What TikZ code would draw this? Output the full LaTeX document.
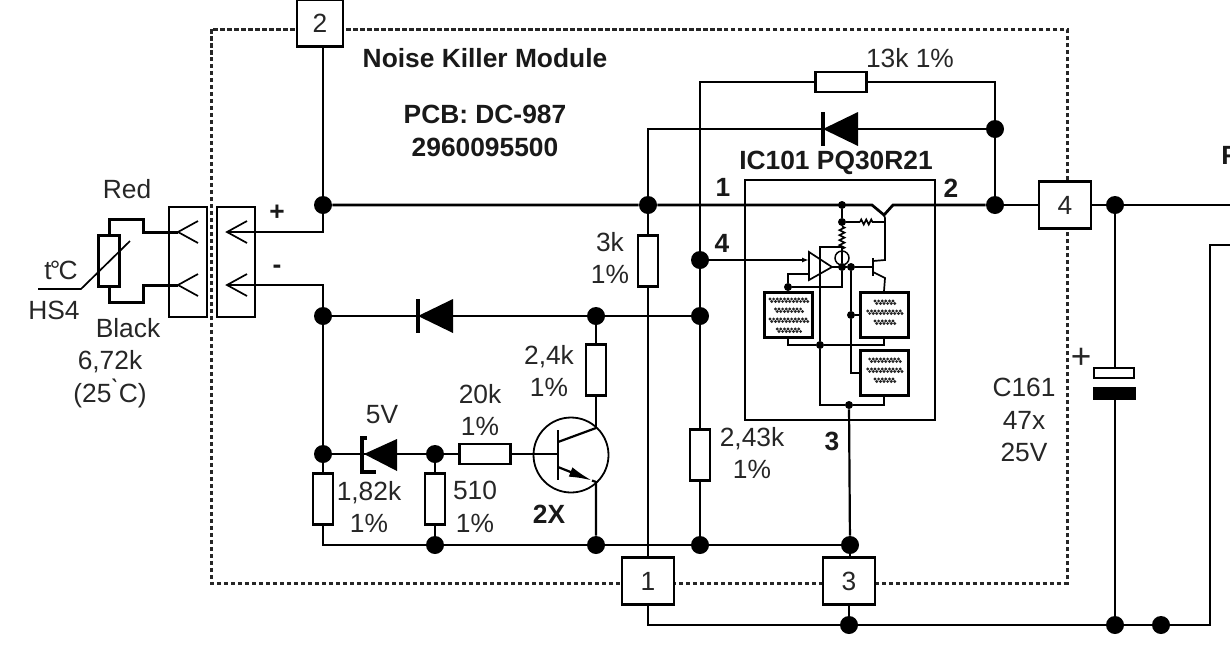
\documentclass[tikz,border=0pt]{standalone}
\usepackage{fontspec}
\setmainfont{Liberation Sans}
\usetikzlibrary{arrows.meta,calc,decorations.pathmorphing}
\tikzset{
  wire/.style={line width=0.044cm},
  thinwire/.style={line width=0.034cm},
  jdot/.style={circle,fill=black,inner sep=0pt,minimum size=0.36cm},
  sdot/.style={circle,fill=black,inner sep=0pt,minimum size=0.16cm},
  rvert/.style={draw,fill=white,line width=0.044cm,inner sep=0pt,minimum width=0.40cm,minimum height=1.02cm},
  rhoriz/.style={draw,fill=white,line width=0.044cm,inner sep=0pt,minimum width=1.02cm,minimum height=0.40cm},
  tlabel/.style={font=\fontsize{15}{18.7}\selectfont,text=black!85,inner sep=0pt,align=center},
  blabel/.style={font=\fontsize{15}{18.7}\selectfont\bfseries,text=black!90,inner sep=0pt,align=center},
  termbox/.style={draw,fill=white,line width=0.05cm,inner sep=0pt,minimum width=1.04cm,minimum height=0.94cm,tlabel},
  heatbox/.style={draw,line width=0.06cm,inner sep=0pt,minimum width=0.96cm,minimum height=0.90cm},
  conbox/.style={draw,line width=0.036cm,inner sep=0pt,minimum width=0.76cm,minimum height=2.20cm},
  diodeleft/.pic={
    \fill (0,0) -- (35,-17) -- (35,17) -- cycle;
    \draw [line width=0.07cm] (0,-17) -- (0,17);
  },
}
\newcommand{\heatdots}[2]{%
  \foreach \rowy/\rowcnt in {#2}{%
    \foreach \dotn in {1,...,\rowcnt}{%
      \fill [black!85] ($(#1)+({(\dotn-(\rowcnt+1)/2)*3.6},\rowy)$) circle (0.032cm);
      \fill [black!85] ($(#1)+({(\dotn-(\rowcnt+1)/2)*3.6+1.8},\rowy+2.5)$) circle (0.032cm);
    }%
  }%
}
\begin{document}
\begin{tikzpicture}[x=0.02cm,y=-0.02cm]
  \useasboundingbox (0,0) rectangle (1230,650);
  \clip (0,0) rectangle (1230,650);

  % Drawing module frame
  \draw [line width=0.06cm,dash pattern=on 0.09cm off 0.05cm,black!85] (211,29) rectangle (1067,583);

  % Marking terminals
  \node [termbox,minimum width=0.92cm] (boxTwo) at (320,23) {2};
  \node [termbox] (boxOne) at (648,581) {1};
  \node [termbox] (boxThree) at (849,581) {3};
  \node [termbox] (boxFour) at (1065,205) {4};

  % Marking junctions
  \node [jdot] (jPlus) at (323,205) {};
  \node [jdot] (jRail) at (648,205) {};
  \node [jdot] (jOut) at (995,205) {};
  \node [jdot] (jFb) at (995,129) {};
  \node [jdot] (jCap) at (1115,205) {};
  \node [jdot] (jMinus) at (323,316) {};
  \node [jdot] (jColl) at (596,316) {};
  \node [jdot] (jSense) at (700,316) {};
  \node [jdot] (jAdj) at (700,260) {};
  \node [jdot] (jZener) at (323,454) {};
  \node [jdot] (jBase) at (435,454) {};
  \node [jdot] (jLowA) at (435,545) {};
  \node [jdot] (jLowB) at (596,545) {};
  \node [jdot] (jLowC) at (700,545) {};
  \node [jdot] (jLowD) at (850,545) {};
  \node [jdot] (jGndA) at (849,625) {};
  \node [jdot] (jGndB) at (1115,625) {};
  \node [jdot] (jGndC) at (1161,625) {};

  % Marking resistors
  \node [rhoriz] (rFb) at (841,82) {};
  \node [rvert] (rThree) at (648,261) {};
  \node [rvert] (rTwoFour) at (596,370) {};
  \node [rvert] (rTwoFourThree) at (700,455) {};
  \node [rvert] (rOneEight) at (323,499) {};
  \node [rvert] (rFiveTen) at (435,499) {};
  \node [rhoriz] (rTwenty) at (485,454) {};

  % Drawing rail and feedback
  \coordinate (cPlus) at (227,232);
  \coordinate (cMinus) at (227,285);
  \coordinate (cCorner) at (700,82);
  \coordinate (cFbLeft) at (648,129);
  \coordinate (cIcRail) at (842,205);
  \coordinate (cRight) at (1230,205);
  \draw [wire] (cPlus) -| (jPlus);
  \draw [wire] (jPlus) -- (jPlus |- boxTwo.south);
  \draw [line width=0.055cm] (jPlus) -- (jRail) -- (cIcRail) -- (872,205) -- (884,215) -- (893,205) -- (jOut);
  \draw [wire] (jOut) -- (boxFour.west);
  \draw [wire] (boxFour.east) -- (jCap) -- (cRight);
  \draw [wire] (jOut) -- (jFb);
  \draw [wire] (jFb) -- (cFbLeft) -- (jRail);
  \draw [wire] (jFb) |- (rFb.east);
  \draw [wire] (rFb.west) -- (cCorner) -- (jAdj) -- (jSense);
  \draw [wire] (jRail) -- (rThree.north);
  \draw [wire] (rThree.south) -- (boxOne.north);

  % Drawing lower side
  \coordinate (cLowLeft) at (323,545);
  \draw [wire] (cMinus) -| (jMinus);
  \draw [wire] (jMinus) -- (jColl) -- (jSense);
  \draw [wire] (jMinus) -- (jZener) -- (rOneEight.north);
  \draw [wire] (rOneEight.south) -- (cLowLeft) -- (jLowA) -- (jLowB) -- (jLowC) -- (jLowD);
  \draw [wire] (jSense) -- (rTwoFourThree.north);
  \draw [wire] (rTwoFourThree.south) -- (jLowC);
  \draw [wire] (jLowD) -- (jLowD |- boxThree.north);
  \draw [wire] (jZener) -- (jBase) -- (rTwenty.west);
  \draw [wire] (jBase) -- (rFiveTen.north);
  \draw [wire] (rFiveTen.south) -- (jLowA);

  % Drawing return line
  \coordinate (cRetLeft) at (648,625);
  \coordinate (cRetRight) at (1210,625);
  \coordinate (cRetTop) at (1210,245);
  \coordinate (cRetEnd) at (1230,245);
  \draw [wire] (boxOne.south) -- (cRetLeft) -- (jGndA) -- (jGndB) -- (jGndC) -- (cRetRight) -- (cRetTop) -- (cRetEnd);
  \draw [wire] (boxThree.south -| jGndA) -- (jGndA);

  % Drawing capacitor
  \node [draw,fill=white,line width=0.05cm,inner sep=0pt,minimum width=0.80cm,minimum height=0.20cm] (capTop) at (1114,373) {};
  \node [fill=black,inner sep=0pt,minimum width=0.86cm,minimum height=0.26cm] (capBot) at (1114,393) {};
  \draw [wire] (jCap) -- (jCap |- capTop.north);
  \draw [wire] (capBot.south -| jGndB) -- (jGndB);

  % Drawing diodes
  \pic at (418,316) {diodeleft};
  \pic at (823,129) {diodeleft};
  \fill (364,454) -- (397,439) -- (397,471) -- cycle;
  \draw [line width=0.07cm] (367,438) -- (362,438) -- (362,472) -- (376,472);

  % Drawing transistor
  \node [draw,circle,line width=0.036cm,inner sep=0pt,minimum size=1.50cm] (qTwoX) at (571,455) {};
  \coordinate (qBar) at (558,454);
  \coordinate (qColl) at (596,428);
  \coordinate (qEmit) at (596,482);
  \coordinate (qHead) at (592,480.5);
  \draw [wire] (jColl) -- (rTwoFour.north);
  \draw [wire] (rTwoFour.south) -- (qColl);
  \draw [wire] (rTwenty.east) -- (qBar);
  \draw [wire] (558,430) -- (558,480);
  \draw [wire] (558,442) -- (qColl);
  \draw [wire,-{Latex[length=0.46cm,width=0.20cm]}] (558,467) -- (qHead);
  \draw [wire] (qHead) -- (qEmit) -- (jLowB);

  % Drawing connector blocks
  \node [conbox] (conLeft) at (188,262) {};
  \node [conbox] (conRight) at (236,262) {};
  \coordinate (cLeftA) at (178,232);
  \coordinate (cLeftB) at (178,285);
  \draw [thinwire] (cPlus) ++(20,-11) -- (cPlus) -- ++(20,11);
  \draw [thinwire] (cMinus) ++(20,-11) -- (cMinus) -- ++(20,11);
  \draw [thinwire] (cLeftA) ++(20,-11) -- (cLeftA) -- ++(20,11);
  \draw [thinwire] (cLeftB) ++(20,-11) -- (cLeftB) -- ++(20,11);

  % Drawing thermistor
  \node [draw,line width=0.044cm,inner sep=0pt,minimum width=0.42cm,minimum height=1.02cm] (rTherm) at (109,261) {};
  \coordinate (cRedUp) at (109,219);
  \coordinate (cRedEnd) at (143,232);
  \coordinate (cBlackDown) at (109,302);
  \coordinate (cBlackEnd) at (143,285);
  \draw [line width=0.06cm] (rTherm.north) -- (cRedUp) -| (cRedEnd) -- (cLeftA);
  \draw [line width=0.06cm] (rTherm.south) -- (cBlackDown) -| (cBlackEnd) -- (cLeftB);
  \draw [thinwire] (38,289) -- (81,289) -- (130,241);

  % Drawing IC box
  \draw [line width=0.044cm] (745,180) rectangle (935,420);
  \node [heatbox] (heatA) at (788,315) {};
  \node [heatbox] (heatB) at (884,315) {};
  \node [heatbox] (heatC) at (884,373) {};
  \heatdots{heatA}{-16/11,-6/8,4/11,14/7}
  \heatdots{heatB}{-14/6,-4/10,6/6}
  \heatdots{heatC}{-14/9,-4/10,6/6}

  % Drawing IC inside
  \node [sdot] (iRail) at (cIcRail) {};
  \node [sdot] (iTap) at (842,222) {};
  \node [sdot] (iOut) at (851,267) {};
  \node [sdot] (iMid) at (842,267) {};
  \node [sdot] (iLeft) at (788,287) {};
  \node [sdot] (iHeat) at (851,315) {};
  \node [sdot] (iSum) at (820,345) {};
  \node [sdot] (iGnd) at (849,405) {};
  \node [draw,circle,line width=0.03cm,inner sep=0pt,minimum size=0.28cm] (iRing) at (842,258) {};
  \coordinate (ampIn) at (809,260);
  \coordinate (ampNeg) at (809,274);
  \coordinate (ampTip) at (832,267);
  \coordinate (qTopC) at (885,218);
  \coordinate (qLowC) at (885,260);
  \coordinate (qLowE) at (885,278);
  \draw [thinwire] (809,252) -- (809,280) -- (ampTip) -- cycle;
  \draw [thinwire,-{Latex[length=0.14cm,width=0.10cm]}] (jAdj) -- (ampIn);
  \draw [thinwire] (ampNeg) -| (iLeft);
  \draw [thinwire] (iLeft) -- (heatA.north);
  \draw [thinwire] (iLeft) -| (iMid);
  \draw [thinwire] (ampTip) -- (iOut) -- (873,267);
  \draw [thinwire] (873,258) -- (873,276);
  \draw [thinwire] (873,261) -- (qLowC) -- (qTopC);
  \draw [thinwire] (873,272) -- (qLowE) -- (heatB.north);
  \draw [thinwire] (884,215) -- (qTopC);
  \draw [thinwire] (iRail) -- (iTap);
  \draw [thinwire,decorate,decoration={zigzag,segment length=0.1cm,amplitude=0.05cm}] (iTap) -- (842,250);
  \draw [thinwire] (842,250) -- (iMid);
  \draw [thinwire] (iTap) -- (860,222);
  \draw [thinwire,decorate,decoration={zigzag,segment length=0.1cm,amplitude=0.05cm}] (860,222) -- (874,222);
  \draw [thinwire] (874,222) -- (885,222);
  \draw [thinwire] (iOut) -- (iHeat) -- (heatB.west);
  \draw [thinwire] (iHeat) |- (heatC.west);
  \draw [thinwire] (iRing.north) -- (842,247) -- (820,247) -- (iSum);
  \draw [thinwire] (heatA.south) |- (iSum) -| (heatB.south);
  \draw [thinwire] (iSum) |- (iGnd);
  \draw [thinwire] (iGnd) -| (heatC.south);
  \draw [wire] (iGnd) -- (jLowD);

  % Marking texts
  \node [blabel] (tModule) at (485,58) {Noise Killer Module};
  \node [blabel] (tPcb) at (485,131) {PCB: DC-987\\2960095500};
  \node [blabel] (tIc) at (836,163) {IC101 PQ30R21};
  \node [tlabel] (tFb) at (910,58) {13k 1\%};
  \node [tlabel] (tThree) at (610,258) {3k\\1\%};
  \node [tlabel] (tTwoFour) at (549,371) {2,4k\\1\%};
  \node [tlabel] (tTwenty) at (480,410) {20k\\1\%};
  \node [tlabel] (tFiveV) at (382,415) {5V};
  \node [tlabel] (tOneEight) at (369,507) {1,82k\\1\%};
  \node [tlabel] (tFiveTen) at (475,507) {510\\1\%};
  \node [blabel] (tTwoX) at (549,514) {2X};
  \node [tlabel] (tTwoFourThree) at (752,453) {2,43k\\1\%};
  \node [tlabel] (tCap) at (1024,420) {C161\\47x\\25V};
  \node [tlabel,font=\fontsize{20}{22}\selectfont] (tPlusCap) at (1081,358) {+};
  \node [blabel] (tPinOne) at (723,187) {1};
  \node [blabel] (tPinTwo) at (951,188) {2};
  \node [blabel] (tPinFour) at (722,243) {4};
  \node [blabel] (tPinThree) at (832,441) {3};
  \node [blabel,anchor=west] (tCut) at (1221,155) {F};
  \node [tlabel] (tRed) at (127,189) {Red};
  \node [tlabel] (tBlack) at (128,328) {Black};
  \node [tlabel] (tDeg) at (61,270) {t\kern-1pt\textdegree\kern-1pt C};
  \node [tlabel] (tHs) at (54,310) {HS4};
  \node [tlabel] (tValue) at (110,379) {6,72k\\(25\`{}C)};
  \node [blabel] (tPlus) at (277,213) {+};
  \node [blabel] (tMinus) at (277,269) {-};
\end{tikzpicture}
\end{document}
